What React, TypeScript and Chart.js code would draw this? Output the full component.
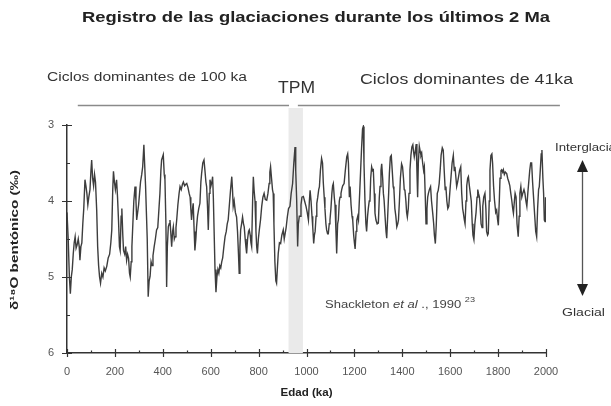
import React, { useEffect, useRef } from 'react';
import { Chart, registerables } from 'chart.js';

Chart.register(...registerables);

const FONT = '"Liberation Sans", Arial, Helvetica, sans-serif';

const chartTitle = 'Registro de las glaciaciones durante los últimos 2 Ma';
const leftCycleLabel = 'Ciclos dominantes de 100 ka';
const rightCycleLabel = 'Ciclos dominantes de 41ka';
const mptLabel = 'TPM';
const xAxisTitle = 'Edad (ka)';
const yAxisTitle = 'δ¹⁸O bentónico (‰)';
const interglacialLabel = 'Interglacial';
const glacialLabel = 'Glacial';

const mptBandKa = [925, 985];
const cycle100Span = [45, 927];
const cycle41Span = [964, 2058];

const ageKa = [
  0, 5, 10, 14, 18, 22, 26, 30, 34, 38,
  42, 47, 51, 54, 58, 62, 66, 70, 75, 79,
  83, 87, 91, 96, 100, 103, 107, 111, 115, 119,
  124, 128, 132, 136, 140, 145, 150, 155, 160, 166,
  172, 178, 183, 187, 191, 194, 198, 202, 207, 211,
  215, 219, 222, 226, 229, 233, 236, 241, 245, 249,
  253, 257, 261, 264, 268, 271, 275, 279, 284, 288,
  291, 295, 299, 303, 307, 312, 316, 321, 324, 328,
  332, 335, 339, 343, 347, 351, 355, 359, 364, 369,
  374, 379, 384, 388, 392, 395, 399, 402, 406, 409,
  413, 416, 419, 423, 427, 430, 434, 437, 441, 444,
  448, 451, 455, 458, 463, 468, 472, 477, 482, 486,
  491, 496, 500, 505, 510, 514, 517, 520, 524, 527,
  531, 534, 538, 541, 545, 550, 555, 559, 562, 567,
  572, 576, 580, 583, 587, 590,
  594, 597, 601, 605, 608, 611, 614, 618, 622, 626,
  630, 634, 638, 642, 646, 650, 655, 660, 665, 669,
  673, 678, 683, 688, 691, 694, 698, 703, 708, 712,
  716, 719, 722, 725, 729, 733, 737, 740, 744, 747,
  750, 754, 758, 761, 765, 768, 771, 775, 778, 781,
  785, 789, 792, 795, 799, 803, 808, 813, 818, 823,
  828, 834, 839, 844, 847, 850, 854, 858, 861, 864,
  868, 872, 875, 879, 882, 887, 892, 897, 903, 907,
  910, 915, 920, 925, 931, 936, 942, 947, 952, 955,
  959, 963, 966, 970, 973, 977, 981, 987,
  992, 998, 1003, 1008, 1012, 1015, 1019, 1023, 1026, 1030,
  1033, 1036, 1040, 1043, 1047, 1051, 1054, 1058, 1063, 1067,
  1070, 1074, 1077, 1081, 1084, 1088, 1091, 1095, 1098, 1102,
  1106, 1109, 1112, 1116, 1119, 1123, 1126, 1130, 1133, 1137,
  1140, 1144, 1147, 1151, 1157, 1162, 1168, 1172, 1175, 1179,
  1182, 1186, 1190, 1193, 1197, 1200, 1203, 1207, 1210, 1214,
  1217, 1222, 1226, 1230, 1234, 1237, 1240, 1244, 1248, 1251,
  1255, 1258, 1262, 1265, 1268, 1272, 1276, 1279, 1283, 1286,
  1290, 1295, 1300, 1304, 1307, 1311, 1314, 1318, 1321, 1324,
  1328, 1332, 1335, 1339, 1343, 1346, 1350, 1354, 1358, 1362,
  1365, 1369, 1373, 1377, 1381, 1384, 1388, 1392, 1397, 1401,
  1405, 1408, 1411, 1415, 1418, 1421, 1425, 1428, 1432, 1436,
  1440, 1444, 1447, 1450, 1454, 1458, 1461, 1464, 1467, 1471,
  1475, 1478, 1481, 1485, 1489, 1492, 1496, 1499, 1503, 1506,
  1509, 1513, 1518, 1522, 1527, 1531, 1534, 1538, 1542, 1546,
  1550, 1554, 1558, 1562, 1567, 1571, 1575, 1579, 1582, 1586,
  1590, 1594, 1599, 1603, 1608, 1613, 1617, 1620, 1624, 1627,
  1631, 1635, 1639, 1644, 1648, 1652, 1655, 1659, 1662, 1666,
  1669, 1673, 1676, 1680, 1684, 1688, 1692, 1695, 1699, 1703,
  1708, 1712, 1715, 1718, 1722, 1725, 1729, 1733, 1736, 1740,
  1745, 1749, 1752, 1756, 1759, 1763, 1766, 1770, 1774, 1777,
  1781, 1785, 1790, 1794, 1798, 1801, 1805, 1808, 1812, 1815,
  1819, 1822, 1826, 1830, 1836, 1840, 1845, 1849, 1853, 1857,
  1861, 1864, 1868, 1871, 1875, 1879, 1884, 1888, 1891, 1895,
  1899, 1903, 1908, 1912, 1916, 1920, 1924, 1928, 1932, 1936,
  1940, 1944, 1948, 1953, 1957, 1961, 1965, 1969, 1972, 1976,
  1980, 1983, 1987, 1990, 1993, 1996, 1998,
];

const d18O = [
  4.15, 4.5, 5.0, 5.22, 5.0, 4.9, 4.7, 4.55, 4.47, 4.62,
  4.58, 4.5, 4.6, 4.78, 4.6, 4.55, 4.3, 4.1, 3.72, 3.8,
  3.9, 4.05, 3.95, 3.85, 3.6, 3.46, 3.7, 3.8, 3.65, 3.75,
  4.12, 4.6, 4.85, 5.0, 5.08, 4.95, 5.0, 4.88, 4.92, 4.86,
  4.75, 4.7, 4.55, 4.38, 3.85, 3.61, 3.75, 3.85, 3.72, 3.95,
  4.25, 4.6, 4.65, 4.2, 4.1, 4.45, 4.65, 4.7, 4.6, 4.78,
  4.7, 4.75, 4.95, 5.0, 4.8, 4.6, 4.3, 4.0, 3.81, 4.0,
  4.25, 4.15, 4.05, 3.9, 3.75, 3.65, 3.55, 3.26, 3.5, 3.8,
  4.2, 4.5, 5.26, 5.05, 4.99, 4.8, 4.85, 4.72, 4.6, 4.5,
  4.38, 4.35, 4.1, 3.9, 3.6, 3.46, 3.42, 3.39, 3.65, 3.72,
  4.3, 5.13, 4.6, 4.34, 4.3, 4.25, 4.45, 4.6, 4.4, 4.34,
  4.5, 4.47, 4.35, 4.25, 4.05, 3.9, 3.81, 3.85, 3.78, 3.75,
  3.8, 3.78, 3.77, 3.82, 3.9, 3.95, 4.1, 4.25, 4.1, 4.03,
  4.4, 4.65, 4.5, 4.34, 4.2, 4.1, 4.03, 3.75, 3.64, 3.5,
  3.46, 3.6, 3.75, 3.81, 4.1, 4.38,
  3.9, 3.72, 3.8, 3.75, 3.68, 3.95, 4.36, 4.9, 5.2, 5.0,
  4.9, 4.95, 4.85, 4.88, 4.8, 4.75, 4.6, 4.47, 4.4, 4.3,
  4.25, 4.05, 3.85, 3.68, 3.85, 4.07, 4.0, 4.15, 4.21, 4.4,
  4.7, 4.95, 4.6, 4.38, 4.3, 4.21, 4.3, 4.34, 4.5, 4.6,
  4.69, 4.5, 4.4, 4.38, 4.45, 4.55, 4.6, 4.0, 3.68, 3.85,
  4.0, 4.4, 4.6, 4.69, 4.5, 4.38, 4.25, 4.07, 3.95, 3.9,
  3.98, 3.99, 3.9, 3.77, 3.62, 3.55, 3.7, 3.85, 3.9, 4.3,
  4.8, 5.05, 5.08, 4.85, 4.69, 4.55, 4.56, 4.45, 4.38, 4.5,
  4.5, 4.35, 4.21, 4.1, 4.07, 3.9, 3.77, 3.5, 3.29, 3.6,
  3.99, 4.6, 4.3, 4.2, 4.2, 4.05, 3.95, 3.94,
  4.0, 4.07, 4.15, 4.25, 4.0, 3.86, 4.0, 4.2, 4.34, 4.56,
  4.45, 4.4, 4.2, 4.03, 3.95, 3.85, 3.81, 3.6, 3.44, 3.5,
  3.75, 3.95, 4.1, 4.3, 4.38, 4.43, 4.43, 4.3, 4.25, 4.1,
  3.9, 3.8, 3.77, 3.95, 4.05, 4.4, 4.69, 4.3, 4.25, 4.0,
  3.95, 3.9, 3.85, 3.8, 3.77, 3.6, 3.42, 3.38, 3.5, 3.95,
  3.81, 4.05, 4.2, 4.25, 4.45, 4.55, 4.63, 4.4, 4.25, 4.2,
  4.25, 3.9, 3.6, 3.3, 3.05, 3.02, 3.5, 3.99, 4.3, 4.4,
  4.2, 4.1, 4.0, 3.99, 3.7, 3.55, 3.6, 3.59, 3.9, 4.16,
  4.25, 4.3, 4.29, 3.95, 3.81, 3.6, 3.51, 3.7, 3.9, 3.99,
  4.2, 4.4, 4.49, 4.2, 3.9, 3.64, 3.42, 3.4, 3.6, 3.81,
  3.85, 4.1, 4.2, 4.34, 4.3, 4.25, 4.0, 3.7, 3.51, 3.55,
  3.7, 3.85, 3.86, 4.0, 4.15, 4.21, 4.1, 3.9, 3.59, 3.4,
  3.29, 3.26, 3.35, 3.42, 3.35, 3.25, 3.6, 3.95, 3.5, 3.28,
  3.35, 3.4, 3.37, 3.5, 3.6, 3.55, 3.95, 4.3, 4.1, 3.95,
  3.9, 3.85, 3.81, 4.0, 4.16, 4.3, 4.45, 4.56, 4.3, 3.9,
  3.86, 3.77, 3.6, 3.4, 3.3, 3.33, 3.6, 3.85, 3.81, 4.0,
  4.1, 4.07, 3.86, 3.7, 3.5, 3.4, 3.6, 3.55, 3.7, 3.81,
  3.75, 3.68, 3.6, 3.55, 3.9, 4.1, 4.16, 4.25, 4.3, 4.0,
  3.8, 3.7, 3.68, 3.8, 3.9, 4.0, 4.3, 4.45, 4.51, 4.3,
  4.15, 3.95, 3.85, 3.9, 3.95, 4.07, 4.3, 4.35, 4.07, 3.95,
  3.9, 4.1, 4.4, 4.45, 4.43, 4.0, 3.6, 3.4, 3.38, 3.5,
  3.8, 3.99, 4.15, 4.12, 4.25, 4.32, 4.0, 3.7, 3.6, 3.59,
  3.62, 3.59, 3.65, 3.62, 3.64, 3.7, 3.75, 3.8, 3.9, 3.99,
  4.1, 4.16, 4.0, 3.9, 3.95, 4.3, 4.47, 4.2, 3.9, 3.81,
  3.95, 3.9, 3.85, 3.9, 4.0, 4.07, 3.9, 3.75, 3.6, 3.5,
  3.5, 3.75, 3.95, 4.2, 4.4, 4.47, 4.1, 3.85, 3.81, 3.6,
  3.38, 3.33, 3.7, 3.9, 4.25, 4.27, 3.95,
];

function drawStretched(
  ctx: CanvasRenderingContext2D,
  text: string,
  x: number,
  y: number,
  width: number,
  size: number,
  weight: string,
  color: string,
) {
  ctx.save();
  ctx.font = `${weight} ${size}px ${FONT}`;
  const w = ctx.measureText(text).width;
  ctx.translate(x, y);
  ctx.scale(width / w, 1);
  ctx.fillStyle = color;
  ctx.textAlign = 'left';
  ctx.textBaseline = 'middle';
  ctx.fillText(text, 0, 0);
  ctx.restore();
}

const decorations = {
  id: 'decorations',
  beforeDatasetsDraw(chart: any) {
    const { ctx, chartArea, scales } = chart;
    const xs = scales.x;
    ctx.save();
    ctx.fillStyle = '#eaeaea';
    const x0 = xs.getPixelForValue(mptBandKa[0]);
    const x1 = xs.getPixelForValue(mptBandKa[1]);
    ctx.fillRect(x0, chartArea.top - 17, x1 - x0, chartArea.bottom - chartArea.top + 17);
    ctx.restore();
  },
  afterDraw(chart: any) {
    const { ctx, chartArea, scales } = chart;
    const xs = scales.x;
    const ys = scales.y;
    ctx.save();

    // tick marks
    ctx.strokeStyle = '#333';
    ctx.lineWidth = 1.2;
    ctx.beginPath();
    for (let v = 0; v <= 2000; v += 100) {
      const px = Math.round(xs.getPixelForValue(v)) + 0.5;
      const major = v % 200 === 0;
      ctx.moveTo(px, chartArea.bottom - (major ? 4 : 2.5));
      ctx.lineTo(px, chartArea.bottom + (major ? 4 : 0));
    }
    for (let v = 3; v <= 6.001; v += 0.5) {
      const py = Math.round(ys.getPixelForValue(v)) + 0.5;
      const major = Math.abs(v - Math.round(v)) < 0.01;
      ctx.moveTo(chartArea.left - (major ? 5 : 0), py);
      ctx.lineTo(chartArea.left + (major ? 5 : 3), py);
    }
    ctx.stroke();

    // titles and labels
    drawStretched(ctx, chartTitle, 82, 18, 468, 14.5, 'bold', '#222');
    drawStretched(ctx, leftCycleLabel, 47, 78, 200, 12, 'normal', '#333');
    drawStretched(ctx, mptLabel, 278, 88, 37, 17, 'normal', '#333');
    drawStretched(ctx, rightCycleLabel, 360, 80, 213, 14, 'normal', '#333');

    // horizontal lines
    ctx.strokeStyle = '#8a8a8a';
    ctx.lineWidth = 1.6;
    ctx.beginPath();
    const ly = 105.5;
    ctx.moveTo(xs.getPixelForValue(cycle100Span[0]), ly);
    ctx.lineTo(xs.getPixelForValue(cycle100Span[1]), ly);
    ctx.moveTo(xs.getPixelForValue(cycle41Span[0]), ly);
    ctx.lineTo(xs.getPixelForValue(cycle41Span[1]), ly);
    ctx.stroke();

    // x axis title
    const midX = (chartArea.left + chartArea.right) / 2;
    drawStretched(ctx, xAxisTitle, midX - 26, 393, 52, 11.5, 'bold', '#222');

    // y axis title
    ctx.save();
    ctx.translate(15, 240);
    ctx.rotate(-Math.PI / 2);
    drawStretched(ctx, yAxisTitle, -70, 0, 140, 11.5, 'bold', '#222');
    ctx.restore();

    // arrow
    ctx.strokeStyle = '#555';
    ctx.lineWidth = 1.3;
    ctx.beginPath();
    ctx.moveTo(582.5, 168);
    ctx.lineTo(582.5, 288);
    ctx.stroke();
    ctx.fillStyle = '#222';
    ctx.beginPath();
    ctx.moveTo(582.5, 160);
    ctx.lineTo(577, 172);
    ctx.lineTo(588, 172);
    ctx.closePath();
    ctx.fill();
    ctx.beginPath();
    ctx.moveTo(582.5, 296);
    ctx.lineTo(577, 284);
    ctx.lineTo(588, 284);
    ctx.closePath();
    ctx.fill();

    // Interglacial (runs past the right edge like the original)
    ctx.save();
    ctx.font = `11px ${FONT}`;
    ctx.translate(555, 148);
    ctx.scale(1.2, 1);
    ctx.fillStyle = '#333';
    ctx.textAlign = 'left';
    ctx.textBaseline = 'middle';
    ctx.fillText(interglacialLabel, 0, 0);
    ctx.restore();
    drawStretched(ctx, glacialLabel, 562, 313, 43, 11.5, 'normal', '#333');

    // citation
    ctx.save();
    const parts: [string, string][] = [
      ['Shackleton ', 'normal'],
      ['et al', 'italic'],
      [' ., 1990 ', 'normal'],
    ];
    let total = 0;
    for (const [t, st] of parts) {
      ctx.font = `${st} 10px ${FONT}`;
      total += ctx.measureText(t).width;
    }
    ctx.font = `7px ${FONT}`;
    total += ctx.measureText('23').width;
    ctx.translate(325, 305);
    ctx.scale(150 / total, 1);
    ctx.fillStyle = '#444';
    ctx.textAlign = 'left';
    ctx.textBaseline = 'middle';
    let cx = 0;
    for (const [t, st] of parts) {
      ctx.font = `${st} 10px ${FONT}`;
      ctx.fillText(t, cx, 0);
      cx += ctx.measureText(t).width;
    }
    ctx.font = `7px ${FONT}`;
    ctx.fillText('23', cx, -5);
    ctx.restore();

    ctx.restore();
  },
};

export default function App() {
  const ref = useRef<HTMLCanvasElement>(null);
  useEffect(() => {
    const canvas = ref.current;
    if (!canvas) return;
    const n = Math.min(ageKa.length, d18O.length);
    const points = [] as { x: number; y: number }[];
    for (let i = 0; i < n; i++) points.push({ x: ageKa[i], y: d18O[i] });
    const chart = new Chart(canvas, {
      type: 'line',
      data: {
        datasets: [
          {
            data: points,
            borderColor: '#3d3d3d',
            borderWidth: 1.4,
            pointRadius: 0,
            tension: 0,
            fill: false,
          },
        ],
      },
      options: {
        responsive: false,
        animation: false,
        devicePixelRatio: 1,
        layout: { padding: { left: 0, right: 65, top: 125, bottom: 0 } },
        plugins: {
          legend: { display: false },
          tooltip: { enabled: false },
          title: { display: false },
        },
        scales: {
          x: {
            type: 'linear',
            min: 0,
            max: 2000,
            afterFit: (s: any) => {
              s.height = 53;
            },
            ticks: {
              stepSize: 200,
              autoSkip: false,
              maxRotation: 0,
              color: '#555',
              padding: 12,
              font: { family: FONT, size: 11 },
              callback: (v: any) => String(v),
            },
            grid: { display: false, drawTicks: false },
            border: { display: true, color: '#333', width: 1.5 },
          },
          y: {
            type: 'linear',
            min: 3,
            max: 6,
            reverse: true,
            afterFit: (s: any) => {
              s.width = 67;
            },
            ticks: {
              stepSize: 1,
              color: '#555',
              padding: 13,
              font: { family: FONT, size: 11 },
              callback: (v: any) => String(v),
            },
            grid: { display: false, drawTicks: false },
            border: { display: true, color: '#333', width: 1.5 },
          },
        },
      },
      plugins: [decorations],
    });
    return () => chart.destroy();
  }, []);

  return (
    <div style={{ position: 'absolute', left: 0, top: 0, width: 611, height: 406, background: '#fff' }}>
      <canvas ref={ref} width={611} height={406} style={{ display: 'block', width: 611, height: 406 }} />
    </div>
  );
}
